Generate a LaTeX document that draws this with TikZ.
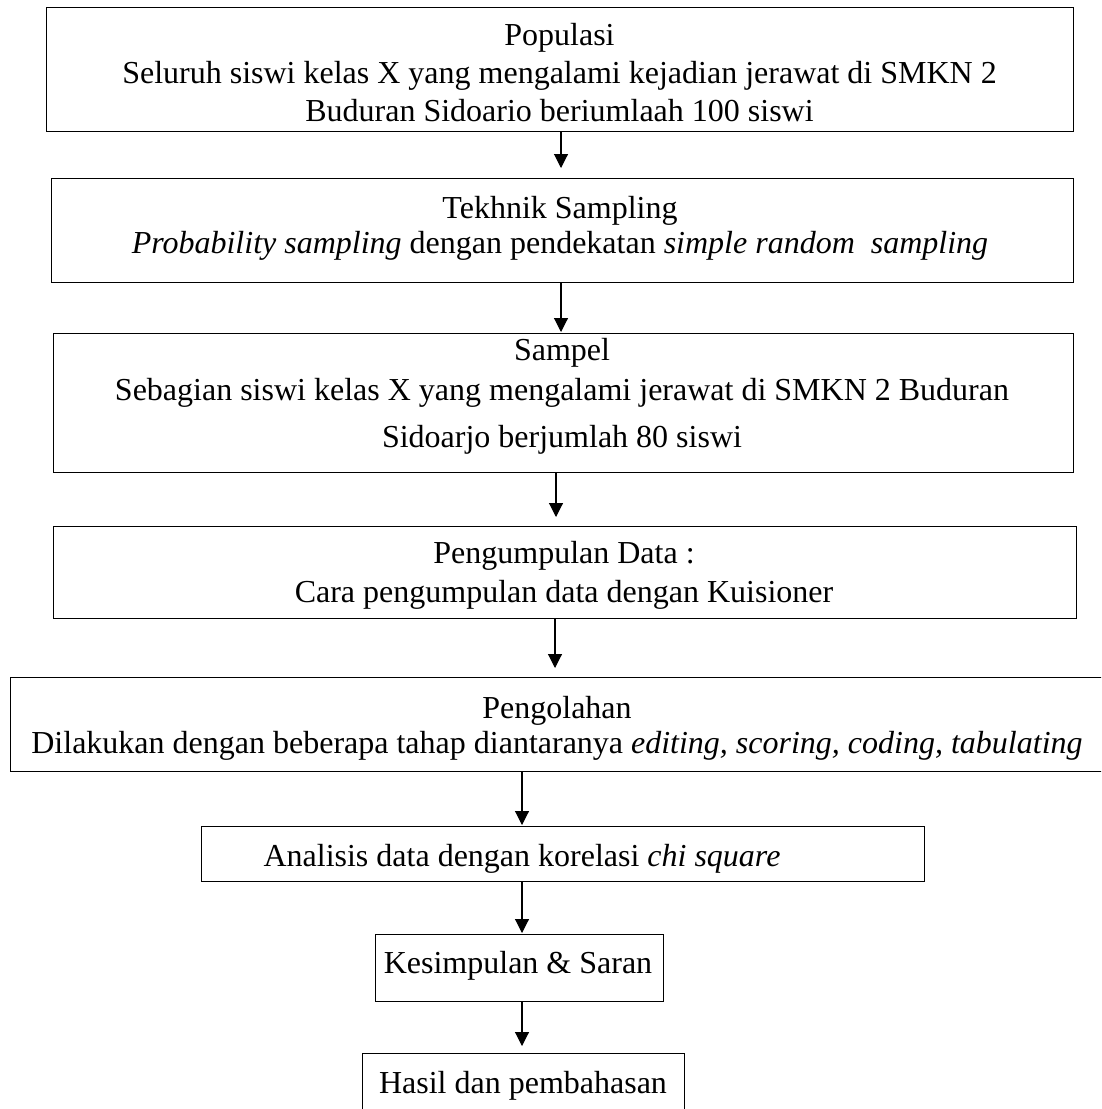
\documentclass[tikz,border=0pt]{standalone}
\usepackage{fontspec}
\setmainfont{Liberation Serif}
\usetikzlibrary{arrows.meta}
\begin{document}
\begin{tikzpicture}[x=1pt,y=-1pt,
  box/.style={draw,line width=1.1pt,rectangle,inner sep=0pt,anchor=north west},
  txt/.style={anchor=base,inner sep=0pt,font=\fontsize{32}{36}\selectfont},
  arr/.style={draw,line width=1.1pt,-{Triangle[width=14pt,length=14pt]}}]
\clip (0,0) rectangle (1101,1109);
\fill[white] (0,0) rectangle (1101,1109);
% boxes
\node[box,minimum width=1027pt,minimum height=124pt] (b1) at (46,7) {};
\node[box,minimum width=1022pt,minimum height=104pt] (b2) at (51,178) {};
\node[box,minimum width=1020pt,minimum height=139pt] (b3) at (53,333) {};
\node[box,minimum width=1023pt,minimum height=92pt] (b4) at (53,526) {};
\node[box,minimum width=1110pt,minimum height=94pt] (b5) at (10,677) {};
\node[box,minimum width=723pt,minimum height=55pt] (b6) at (201,826) {};
\node[box,minimum width=288pt,minimum height=67pt] (b7) at (375,934) {};
\node[box,minimum width=322pt,minimum height=80pt] (b8) at (362,1053) {};
% texts
\node[txt] (t1a) at (559.5,45) {Populasi};
\node[txt] (t1b) at (559.5,83) {Seluruh siswi kelas X yang mengalami kejadian jerawat di SMKN 2};
\node[txt] (t1c) at (559.5,121) {Buduran Sidoario beriumlaah 100 siswi};
\node[txt] (t2a) at (560,218) {Tekhnik Sampling};
\node[txt] (t2b) at (560,253) {\textit{Probability sampling} dengan pendekatan \textit{simple random\ \ sampling}};
\node[txt] (t3a) at (562,360) {Sampel};
\node[txt] (t3b) at (562,400) {Sebagian siswi kelas X yang mengalami jerawat di SMKN 2 Buduran};
\node[txt] (t3c) at (562,447) {Sidoarjo berjumlah 80 siswi};
\node[txt] (t4a) at (564,563) {Pengumpulan Data :};
\node[txt] (t4b) at (564,602) {Cara pengumpulan data dengan Kuisioner};
\node[txt] (t5a) at (557,718) {Pengolahan};
\node[txt] (t5b) at (557,753) {Dilakukan dengan beberapa tahap diantaranya \textit{editing, scoring, coding, tabulating}};
\node[txt] (t6) at (522,866) {Analisis data dengan korelasi \textit{chi square}};
\node[txt] (t7) at (518,973) {Kesimpulan \& Saran};
\node[txt] (t8) at (523,1093) {Hasil dan pembahasan};
% arrow x positions
\coordinate (x1) at (561,0);
\coordinate (x2) at (561,0);
\coordinate (x3) at (556,0);
\coordinate (x4) at (555,0);
\coordinate (x5) at (522,0);
% connectors
\draw[arr,shorten >=10pt] (b1.south -| x1) -- (b2.north -| x1);
\draw[arr,shorten >=1pt] (b2.south -| x2) -- (b3.north -| x2);
\draw[arr,shorten >=9pt] (b3.south -| x3) -- (b4.north -| x3);
\draw[arr,shorten >=9pt] (b4.south -| x4) -- (b5.north -| x4);
\draw[arr,shorten >=1pt] (b5.south -| x5) -- (b6.north -| x5);
\draw[arr,shorten >=1pt] (b6.south -| x5) -- (b7.north -| x5);
\draw[arr,shorten >=7pt] (b7.south -| x5) -- (b8.north -| x5);
\end{tikzpicture}
\end{document}
